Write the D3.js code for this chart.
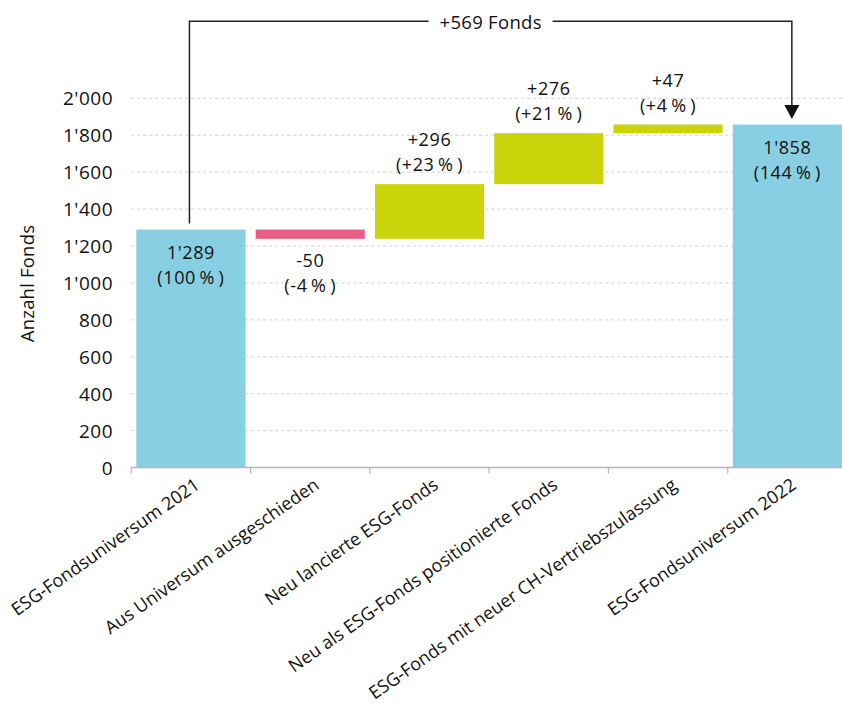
<!DOCTYPE html>
<html>
<head>
<meta charset="utf-8">
<script src="https://cdn.jsdelivr.net/npm/d3@7"></script>
<style>
  body { margin: 0; background: #fff; }
  svg { display: block; font-family: "Open Sans", "Noto Sans", sans-serif; }
  .grid line { stroke: #d0d0d0; stroke-dasharray: 3,3; }
  .ylab { font-size: 19px; fill: #111; letter-spacing: 0.5px; }
  .xlab { font-size: 18px; fill: #111; }
  .val { font-size: 18px; fill: #111; letter-spacing: 0.6px; }
</style>
</head>
<body>
<svg id="chart" width="842" height="703"></svg>
<script>
// chart data
const categories = [
  "ESG-Fondsuniversum 2021",
  "Aus Universum ausgeschieden",
  "Neu lancierte ESG-Fonds",
  "Neu als ESG-Fonds positionierte Fonds",
  "ESG-Fonds mit neuer CH-Vertriebszulassung",
  "ESG-Fondsuniversum 2022"
];
const values = [1289, -50, 296, 276, 47, 1858];
const kinds = ["total", "delta", "delta", "delta", "delta", "total"];
const percents = [100, -4, 23, 21, 4, 144];
const yTicks = [0, 200, 400, 600, 800, 1000, 1200, 1400, 1600, 1800, 2000];
const axisTitle = "Anzahl Fonds";

const colors = { total: "#88cfe4", up: "#c9d40a", down: "#e95e85" };

const svg = d3.select("#chart");
const W = 842, H = 703;
const plotLeft = 131.3, plotRight = 847, plotTop = 98.3, plotBottom = 467.6;

const loc = d3.formatLocale({ decimal: ".", thousands: "'", grouping: [3], currency: ["", ""], minus: "-" });
const fmt = loc.format(",d");
const signed = v => (v > 0 ? "+" : "") + fmt(v);

// waterfall steps
let running = 0;
const steps = values.map((v, i) => {
  let y0, y1;
  if (kinds[i] === "total") { y0 = 0; y1 = v; running = v; }
  else { y0 = running; y1 = running + v; running = y1; }
  return { cat: categories[i], v, kind: kinds[i], pct: percents[i], lo: Math.min(y0, y1), hi: Math.max(y0, y1) };
});

const x = d3.scaleBand().domain(categories).range([plotLeft, plotRight])
  .paddingInner(0.085).paddingOuter(0.0425);
const y = d3.scaleLinear().domain([0, 2000]).range([plotBottom, plotTop]);

// grid
svg.append("g").attr("class", "grid")
  .selectAll("line").data(yTicks.filter(d => d > 0)).join("line")
  .attr("x1", plotLeft).attr("x2", W)
  .attr("y1", d => y(d)).attr("y2", d => y(d));

// y labels
svg.append("g").selectAll("text").data(yTicks).join("text")
  .attr("class", "ylab")
  .attr("x", 113).attr("y", d => y(d))
  .attr("text-anchor", "end").attr("dominant-baseline", "central")
  .text(d => fmt(d));

svg.append("text").attr("class", "ylab")
  .attr("transform", `translate(26,283.5) rotate(-90)`)
  .attr("text-anchor", "middle").attr("dominant-baseline", "central")
  .style("font-size", "18.5px").style("letter-spacing", "0.2px")
  .text(axisTitle);

// bars
svg.append("g").selectAll("rect").data(steps).join("rect")
  .attr("x", d => x(d.cat))
  .attr("width", x.bandwidth())
  .attr("y", d => y(d.hi))
  .attr("height", d => y(d.lo) - y(d.hi))
  .attr("fill", d => d.kind === "total" ? colors.total : (d.v < 0 ? colors.down : colors.up));

// x axis
const step = x.step();
svg.append("line").attr("x1", plotLeft).attr("x2", W)
  .attr("y1", plotBottom).attr("y2", plotBottom)
  .attr("stroke", "#b5b5b5").attr("stroke-width", 1.5);
svg.append("g").selectAll("line").data(d3.range(categories.length))
  .join("line")
  .attr("x1", i => plotLeft + i * step).attr("x2", i => plotLeft + i * step)
  .attr("y1", plotBottom).attr("y2", plotBottom + 6)
  .attr("stroke", "#b5b5b5").attr("stroke-width", 1.2);

svg.append("g").selectAll("text").data(categories).join("text")
  .attr("class", "xlab")
  .attr("transform", d => `translate(${x(d) + x.bandwidth() / 2 + 10},${plotBottom + 20}) rotate(-35)`)
  .attr("text-anchor", "end")
  .text(d => d);

// value labels: two lines in one text element
const lineGap = 25;
const lab = svg.append("g");
steps.forEach(d => {
  const cx = x(d.cat) + x.bandwidth() / 2;
  let y1;
  if (d.kind === "total") y1 = y(d.hi) + 22.2;
  else if (d.v < 0) y1 = y(d.lo) + 21.2;
  else y1 = y(d.hi) - 44.7;
  const t1 = d.kind === "total" ? fmt(d.v) : signed(d.v);
  const t2 = "(" + (d.kind === "total" ? "" : (d.pct > 0 ? "+" : "")) + fmt(d.pct) + "\u2009%\u2009)";
  const t = lab.append("text").attr("class", "val")
    .attr("text-anchor", "middle").attr("dominant-baseline", "central");
  t.append("tspan").attr("x", cx).attr("y", y1).text(t1);
  t.append("tspan").attr("x", cx).attr("dy", lineGap).text(t2);
});

// bracket annotation
const first = steps[0], last = steps[steps.length - 1];
const xa = x(first.cat) + x.bandwidth() / 2 - 1.5;
const xb = x(last.cat) + x.bandwidth() / 2 + 4.5;
const yb = 21.3;
const tipY = y(last.hi) - 5.5;
const change = last.v - first.v;
const midX = (xa + xb) / 2;

svg.append("path")
  .attr("d", `M${xa},${y(first.hi) - 6}V${yb}H${midX - 62}M${midX + 62},${yb}H${xb}V${tipY - 13}`)
  .attr("fill", "none").attr("stroke", "#222").attr("stroke-width", 1.5);
svg.append("path")
  .attr("d", `M${xb - 7.5},${tipY - 14}L${xb + 7.5},${tipY - 14}L${xb},${tipY}Z`)
  .attr("fill", "#111");
svg.append("text").attr("class", "val")
  .attr("x", midX).attr("y", yb)
  .attr("text-anchor", "middle").attr("dominant-baseline", "central")
  .style("font-size", "18.5px").style("letter-spacing", "0.3px")
  .text(signed(change) + " Fonds");
</script>
</body>
</html>
